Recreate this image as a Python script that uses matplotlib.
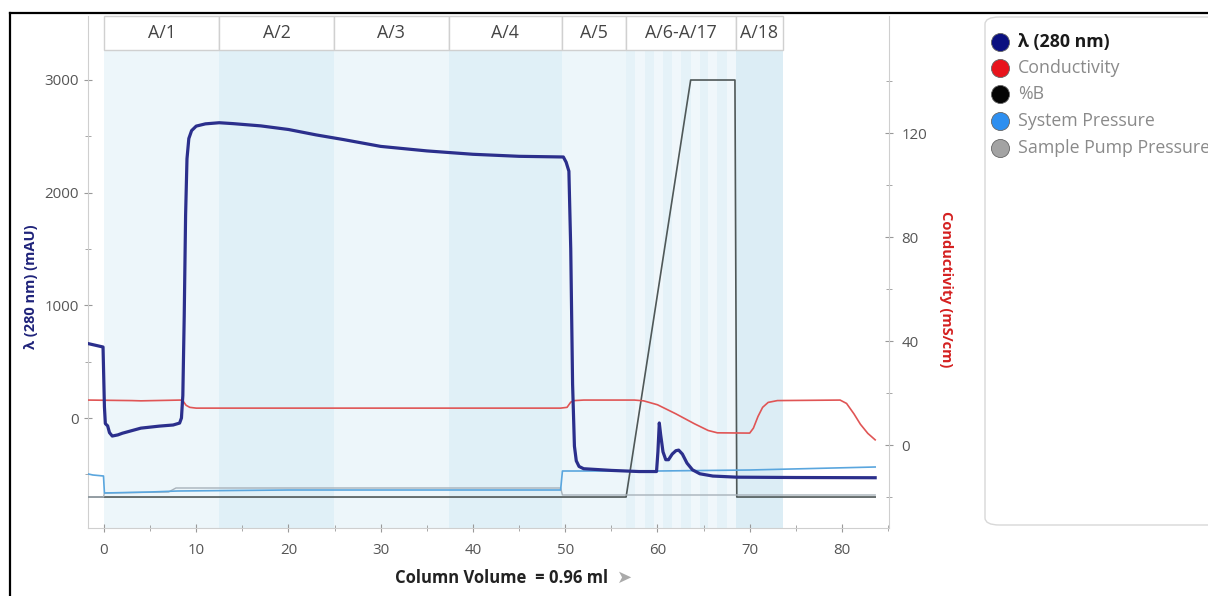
import matplotlib
matplotlib.use("Agg")
import matplotlib.pyplot as plt
import matplotlib.transforms as mtransforms
from matplotlib.patches import Rectangle, FancyBboxPatch
from matplotlib.lines import Line2D
from matplotlib.ticker import FixedLocator

plt.rcParams["font.family"] = ["Open Sans", "DejaVu Sans"]

# UV 280 nm (mAU) vs column volume
uv_x = [-1.7, -0.1, 0.05, 0.15, 0.4, 0.6, 0.9, 1.5, 2, 4, 6, 7.5, 8.2, 8.4, 8.55, 8.7,
        8.85, 9.0, 9.2, 9.5, 10, 11, 12.5, 14, 17, 20, 23, 26, 30, 35, 40, 45, 49.8,
        50.1, 50.4, 50.6, 50.8, 51.0, 51.2, 51.5, 52, 55, 58, 59.9, 60.05, 60.2, 60.35,
        60.6, 60.9, 61.2, 61.6, 62.0, 62.3, 62.7, 63.2, 63.8, 64.6, 66, 68.6, 75, 83.6]
uv_y = [660, 630, 100, -50, -70, -130, -160, -150, -135, -90, -72, -62, -45, 0, 200, 900,
        1800, 2300, 2480, 2550, 2590, 2610, 2620, 2612, 2592, 2560, 2512, 2470, 2410,
        2370, 2340, 2322, 2316, 2270, 2190, 1500, 300, -250, -380, -430, -450, -465,
        -475, -475, -300, -44, -150, -300, -370, -370, -320, -290, -285, -320, -400,
        -460, -495, -515, -525, -528, -530]

# conductivity (mS/cm)
cond_x = [-1.7, 3, 4, 8.3, 8.6, 8.9, 9.3, 10, 20, 49.5, 50.2, 50.6, 51, 52, 57.5, 58.5,
          60, 62, 64, 65.5, 66.5, 70.0, 70.4, 70.9, 71.4, 72, 73, 79.8, 80.5, 81.3, 82,
          82.8, 83.6]
cond_y = [17.3, 17.1, 17.0, 17.3, 16.8, 15.3, 14.5, 14.2, 14.2, 14.2, 14.5, 16.5, 17.1,
          17.3, 17.3, 17.0, 15.5, 12.0, 8.2, 5.6, 4.7, 4.6, 6.5, 11.0, 14.5, 16.4, 17.1,
          17.3, 16.0, 12.0, 8.0, 4.5, 2.0]

# %B gradient
pb_x = [-1.7, 56.6, 63.6, 68.4, 68.6, 83.6]
pb_y = [0, 0, 100, 100, 0, 0]

# system pressure (MPa)
sp_x = [-1.7, -1.2, -0.05, 0.05, 5, 8, 20, 49.5, 49.7, 60, 70, 83.6]
sp_y = [0.23, 0.22, 0.21, 0.04, 0.05, 0.06, 0.07, 0.07, 0.26, 0.26, 0.27, 0.30]

# sample pump pressure (MPa)
pp_x = [-1.7, -0.05, 0.05, 7.0, 7.8, 49.5, 49.7, 83.6]
pp_y = [0.0, 0.0, 0.04, 0.05, 0.09, 0.09, 0.02, 0.02]

# fractions
frac_labels = ["A/1", "A/2", "A/3", "A/4", "A/5", "A/6-A/17", "A/18"]
frac_edges = [0, 12.5, 24.9, 37.4, 49.6, 56.6, 68.5, 73.6]
stripe_edges = [56.6, 57.6, 58.6, 59.6, 60.6, 61.6, 62.6, 63.6, 64.6, 65.5, 66.5, 67.5, 68.5]

legend_labels = ["λ (280 nm)", "Conductivity", "%B", "System Pressure", "Sample Pump Pressure"]
legend_colors = ["#0b1080", "#e8141c", "#050505", "#2e8ff0", "#a3a3a3"]

W, H = 1208, 596
fig = plt.figure(figsize=(W / 100, H / 100), dpi=100)


def fx(px):
    return px / W


def fy(py):
    return 1 - py / H


ax = fig.add_axes([fx(88), fy(528), fx(889) - fx(88), fy(16) - fy(528)])
ax.set_xlim(-1.73, 85.1)
ax.set_ylim(-976, 3567)

# shading of fractions
trans = mtransforms.blended_transform_factory(ax.transData, ax.transAxes)
head_bot = (528 - 50) / (528 - 16)
shade = ["#edf6fa", "#e0f0f7"]
for i in range(len(frac_labels)):
    a, b = frac_edges[i], frac_edges[i + 1]
    if frac_labels[i] == "A/6-A/17":
        for j in range(len(stripe_edges) - 1):
            c = "#e5f2f8" if j % 2 == 0 else "#f0f7fb"
            ax.add_patch(Rectangle((stripe_edges[j], 0), stripe_edges[j + 1] - stripe_edges[j],
                                   head_bot, transform=trans, facecolor=c, edgecolor="none", zorder=0))
    else:
        c = "#dcedf5" if frac_labels[i] == "A/18" else shade[i % 2]
        ax.add_patch(Rectangle((a, 0), b - a, head_bot, transform=trans,
                               facecolor=c, edgecolor="none", zorder=0))
    ax.add_patch(Rectangle((a, head_bot), b - a, 1 - head_bot, transform=trans,
                           facecolor="white", edgecolor="#d0d0d0", lw=1.0, zorder=1, clip_on=False))
    ax.text((a + b) / 2, (head_bot + 1) / 2, frac_labels[i], transform=trans,
            ha="center", va="center", fontsize=12.8, color="#444444", zorder=2)

for s in ["top", "right"]:
    ax.spines[s].set_visible(False)
for s in ["left", "bottom"]:
    ax.spines[s].set_color("#cfcfcf")
ax.set_xticks(range(0, 81, 10))
ax.xaxis.set_minor_locator(FixedLocator(range(5, 86, 10)))
ax.set_yticks([0, 1000, 2000, 3000])
ax.yaxis.set_minor_locator(FixedLocator([-500, 500, 1500, 2500]))
ax.tick_params(axis="both", which="both", direction="inout", color="#999999", labelcolor="#555555",
               labelsize=10.8)
ax.tick_params(axis="both", which="major", length=6)
ax.tick_params(axis="both", which="minor", length=5)
ax.tick_params(axis="x", pad=8)

# hidden axes for %B and pressures
axB = ax.twinx()
axB.set_ylim(-7.43, 115.35)
axP = ax.twinx()
axP.set_ylim(-0.31, 4.81)
for a_ in (axB, axP):
    a_.axis("off")

axP.plot(pp_x, pp_y, color="#a8b2ba", lw=1.0)
axP.plot(sp_x, sp_y, color="#5aa6de", lw=1.2)
axB.plot(pb_x, pb_y, color="#4f5858", lw=1.2)

# conductivity axis
axC = ax.twinx()
axC.set_ylim(-31.9, 165)
axC.plot(cond_x, cond_y, color="#e05555", lw=1.2)
for s in ["top", "left", "bottom"]:
    axC.spines[s].set_visible(False)
axC.spines["right"].set_color("#cfcfcf")
axC.set_yticks([0, 40, 80, 120])
axC.yaxis.set_minor_locator(FixedLocator([-20, 20, 60, 100, 140]))
axC.tick_params(axis="y", which="both", direction="inout", color="#999999", labelcolor="#555555",
                labelsize=10.8, pad=6)
axC.tick_params(axis="y", which="major", length=6)
axC.tick_params(axis="y", which="minor", length=5)

# UV on top
axU = ax.twinx()
axU.set_ylim(ax.get_ylim())
axU.axis("off")
axU.plot(uv_x, uv_y, color="#2b2f8c", lw=2.3, solid_joinstyle="round")

# axis labels
fig.text(fx(31), fy(287), "λ (280 nm) (mAU)", rotation=90, ha="center", va="center",
         fontsize=10.5, fontweight="bold", color="#1f237a")
fig.text(fx(946), fy(289), "Conductivity (mS/cm)", rotation=-90, ha="center", va="center",
         fontsize=10.5, fontweight="bold", color="#d42020")
fig.text(fx(502), fy(578), "Column Volume  = 0.96 ml", ha="center", va="center",
         fontsize=12, fontweight="bold", color="#222222")
fig.text(fx(625), fy(578), "➤", ha="center", va="center", fontsize=13, color="#aaaaaa",
         family="DejaVu Sans")

# legend box
fig.add_artist(FancyBboxPatch((fx(985), fy(525)), fx(1230) - fx(985), fy(17) - fy(525),
                              boxstyle="round,pad=0,rounding_size=0.012",
                              transform=fig.transFigure, facecolor="white",
                              edgecolor="#d8d8d8", lw=1.0, clip_on=False))
rows = [42, 68, 94, 121, 148]
for i, lab in enumerate(legend_labels):
    fig.add_artist(Line2D([fx(1000)], [fy(rows[i])], marker="o", markersize=13,
                          markerfacecolor=legend_colors[i], markeredgecolor="#666666",
                          markeredgewidth=0.6, linestyle="none", transform=fig.transFigure))
    if i == 0:
        fig.text(fx(1018), fy(rows[i]), lab, ha="left", va="center", fontsize=12.8,
                 fontweight="bold", color="#1a1a1a")
    else:
        fig.text(fx(1018), fy(rows[i]), lab, ha="left", va="center", fontsize=12.8,
                 color="#8a8a8a")

# outer frame
fig.add_artist(Line2D([fx(10), fx(1208)], [fy(13), fy(13)], color="black", lw=1.6,
                      transform=fig.transFigure))
fig.add_artist(Line2D([fx(10), fx(10)], [fy(13), fy(596)], color="black", lw=1.6,
                      transform=fig.transFigure))

fig.savefig("out.png", dpi=100)
